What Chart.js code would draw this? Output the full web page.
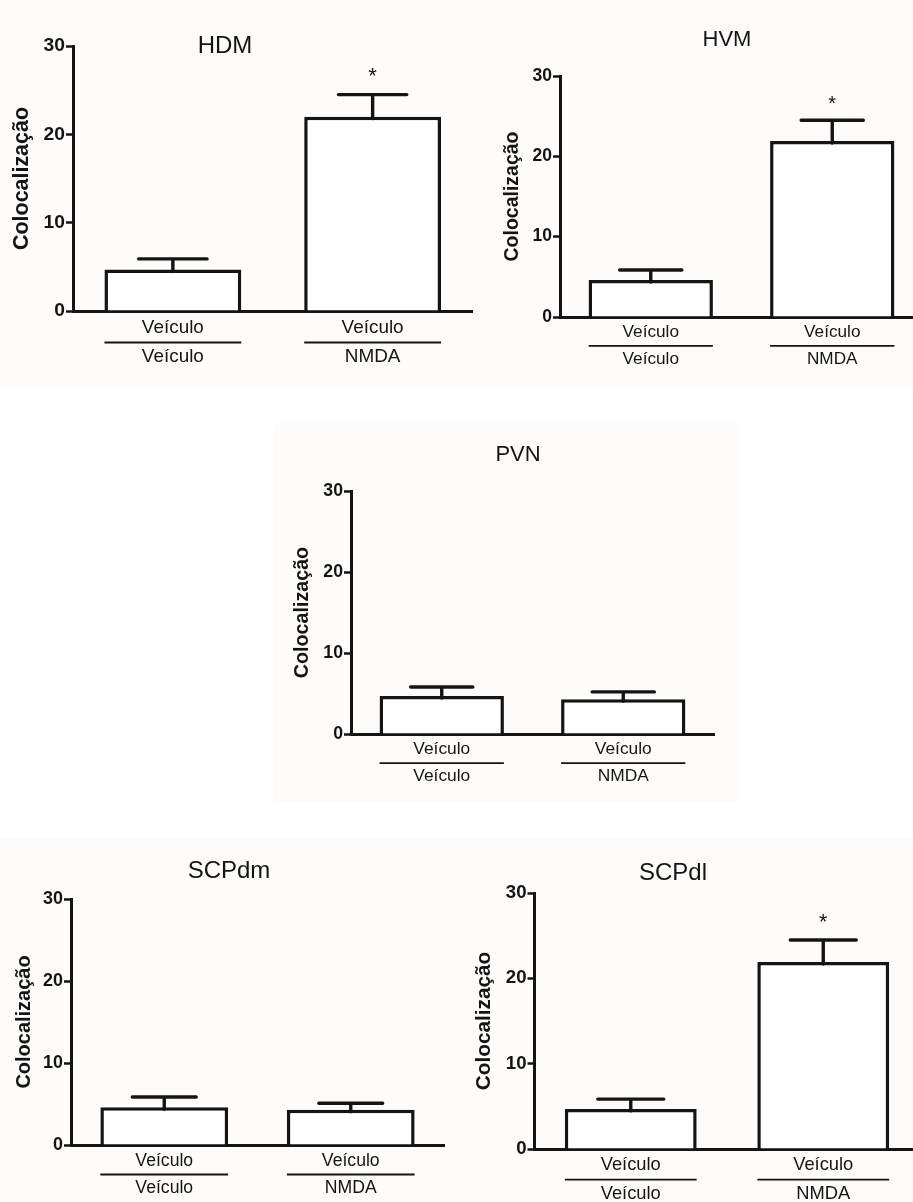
<!DOCTYPE html>
<html>
<head>
<meta charset="utf-8">
<script src="https://cdn.jsdelivr.net/npm/chart.js@4.4.0/dist/chart.umd.min.js"></script>
<style>
  html, body { margin: 0; padding: 0; background: #fff; }
  body { width: 913px; height: 1202px; overflow: hidden; position: relative; }
  .tint { position: absolute; background: #fdfcfa; }
  canvas { position: absolute; }
</style>
</head>
<body>
<div class="tint" style="left:0;top:0;width:458px;height:388px"></div>
<div class="tint" style="left:458px;top:0;width:455px;height:388px"></div>
<div class="tint" style="left:275px;top:423px;width:465px;height:379px"></div>
<div class="tint" style="left:0;top:838px;width:458px;height:364px"></div>
<div class="tint" style="left:458px;top:838px;width:455px;height:364px"></div>
<script>
// category labels (upper / lower line under each bar) and y ticks
const topLabels = ['Veículo', 'Veículo'];
const bottomLabels = ['Veículo', 'NMDA'];
const yTicks = [0, 10, 20, 30];
const yTitle = 'Colocalização';

// mean and SEM per region
const hdmMean = [4.7, 22.0];
const hdmSem = [1.2, 2.5];
const hdmSig = [false, true];

const hvmMean = [4.6, 21.9];
const hvmSem = [1.25, 2.6];
const hvmSig = [false, true];

const pvnMean = [4.7, 4.3];
const pvnSem = [1.1, 0.9];
const pvnSig = [false, false];

const scpdmMean = [4.6, 4.3];
const scpdmSem = [1.25, 0.8];
const scpdmSig = [false, false];

const scpdlMean = [4.7, 21.9];
const scpdlSem = [1.15, 2.6];
const scpdlSig = [false, true];

const INK = '#141414';
const FONT = "'Liberation Sans', Arial, sans-serif";

// error bars, asterisks, separator lines and panel titles
const decor = {
    id: 'decor',
    afterDatasetsDraw(chart, args, opts) {
        const { ctx } = chart;
        const y = chart.scales.y;
        const meta = chart.getDatasetMeta(0);
        ctx.save();
        ctx.strokeStyle = INK;
        ctx.fillStyle = INK;
        ctx.lineWidth = opts.lw;
        ctx.lineCap = 'round';
        ctx.font = `${opts.starSize}px ${FONT}`;
        ctx.textAlign = 'center';
        ctx.textBaseline = 'middle';
        meta.data.forEach((bar, i) => {
            const top = y.getPixelForValue(opts.mean[i] + opts.sem[i]);
            const half = bar.width / 4;
            ctx.beginPath();
            ctx.moveTo(bar.x, bar.y + 2);
            ctx.lineTo(bar.x, top);
            ctx.moveTo(bar.x - half, top);
            ctx.lineTo(bar.x + half, top);
            ctx.stroke();
            if (opts.sig[i]) {
                ctx.fillText('*', bar.x, top - opts.starGap);
            }
        });
        ctx.restore();
    },
    afterDraw(chart, args, opts) {
        const { ctx } = chart;
        const x = chart.scales.x;
        const meta = chart.getDatasetMeta(0);
        const lineY = x.top + opts.tickPad + opts.catSize * opts.catLH;
        ctx.save();
        ctx.strokeStyle = INK;
        ctx.lineWidth = 1.8;
        meta.data.forEach((bar, i) => {
            const cx = x.getPixelForTick(i);
            ctx.beginPath();
            ctx.moveTo(cx - bar.width / 2, lineY);
            ctx.lineTo(cx + bar.width / 2, lineY);
            ctx.stroke();
        });
        ctx.fillStyle = INK;
        ctx.font = `${opts.titleSize}px ${FONT}`;
        ctx.textAlign = 'center';
        ctx.textBaseline = 'middle';
        ctx.fillText(opts.title, opts.titleX, opts.titleY);
        ctx.restore();
    }
};

function makePanel(p) {
    const [bx, by, bw, bh] = p.box;
    const [al, at, ar, ab] = p.area;
    const s = p.s;
    const yTitleSize = 19.5 * s;
    const yW = p.yGap + yTitleSize * 1.2 / 2;
    const xH = 72;
    const catSize = 17.2 * s;
    const catLH = 1.56;
    const tickPad = 2;

    const canvas = document.createElement('canvas');
    canvas.width = bw;
    canvas.height = bh;
    canvas.style.left = bx + 'px';
    canvas.style.top = by + 'px';
    document.body.appendChild(canvas);

    new Chart(canvas, {
        type: 'bar',
        data: {
            labels: topLabels.map((t, i) => [t, bottomLabels[i]]),
            datasets: [{
                data: p.mean,
                backgroundColor: '#ffffff',
                borderColor: INK,
                borderWidth: 3.5,
                barPercentage: 0.685,
                categoryPercentage: 1
            }]
        },
        options: {
            responsive: false,
            animation: false,
            events: [],
            layout: {
                padding: {
                    left: al - bx - yW,
                    top: at - by,
                    right: bx + bw - ar,
                    bottom: by + bh - ab - xH
                }
            },
            plugins: {
                legend: { display: false },
                tooltip: { enabled: false },
                decor: {
                    mean: p.mean, sem: p.sem, sig: p.sig,
                    lw: 3.4, starSize: 20 * s, starGap: 16 * s,
                    tickPad: tickPad, catSize: catSize, catLH: catLH,
                    title: p.title, titleSize: p.titleSize,
                    titleX: p.titleAt[0] - bx, titleY: p.titleAt[1] - by
                }
            },
            scales: {
                x: {
                    grid: { display: false, drawTicks: false },
                    border: { display: true, color: INK, width: 3 },
                    ticks: {
                        color: INK,
                        padding: tickPad,
                        maxRotation: 0,
                        autoSkip: false,
                        font: { family: FONT, size: catSize, lineHeight: catLH }
                    },
                    afterFit: sc => { sc.height = xH; }
                },
                y: {
                    min: 0,
                    max: 30,
                    afterBuildTicks: sc => { sc.ticks = yTicks.map(v => ({ value: v })); },
                    grid: {
                        drawOnChartArea: false,
                        drawTicks: true,
                        tickLength: 7,
                        tickWidth: 2.5,
                        tickColor: INK
                    },
                    border: { color: INK, width: 3 },
                    ticks: {
                        color: INK,
                        padding: 1,
                        font: { family: FONT, size: 17.5 * s, weight: 'bold' }
                    },
                    title: {
                        display: true,
                        text: yTitle,
                        color: INK,
                        padding: 0,
                        font: { family: FONT, size: yTitleSize, weight: 'bold', lineHeight: 1.2 }
                    },
                    afterFit: sc => { sc.width = yW; }
                }
            }
        },
        plugins: [decor]
    });
}

document.addEventListener('DOMContentLoaded', () => {
    makePanel({ title: 'HDM', mean: hdmMean, sem: hdmSem, sig: hdmSig,
        box: [0, 0, 480, 400], area: [73, 46, 472.5, 311], s: 1.10,
        yGap: 51, titleAt: [225, 46], titleSize: 24 });
    makePanel({ title: 'HVM', mean: hvmMean, sem: hvmSem, sig: hvmSig,
        box: [450, 0, 480, 400], area: [560, 76, 923, 317], s: 1.0,
        yGap: 47, titleAt: [727, 40], titleSize: 22 });
    makePanel({ title: 'PVN', mean: pvnMean, sem: pvnSem, sig: pvnSig,
        box: [260, 410, 480, 410], area: [351, 491, 714, 734], s: 1.01,
        yGap: 48, titleAt: [518, 455], titleSize: 22 });
    makePanel({ title: 'SCPdm', mean: scpdmMean, sem: scpdmSem, sig: scpdmSig,
        box: [0, 830, 460, 400], area: [71, 899, 444, 1145], s: 1.025,
        yGap: 47, titleAt: [229, 871], titleSize: 24 });
    makePanel({ title: 'SCPdl', mean: scpdlMean, sem: scpdlSem, sig: scpdlSig,
        box: [450, 830, 480, 400], area: [534.5, 893, 919.5, 1149], s: 1.066,
        yGap: 50, titleAt: [673, 873], titleSize: 24 });
});
</script>
</body>
</html>
